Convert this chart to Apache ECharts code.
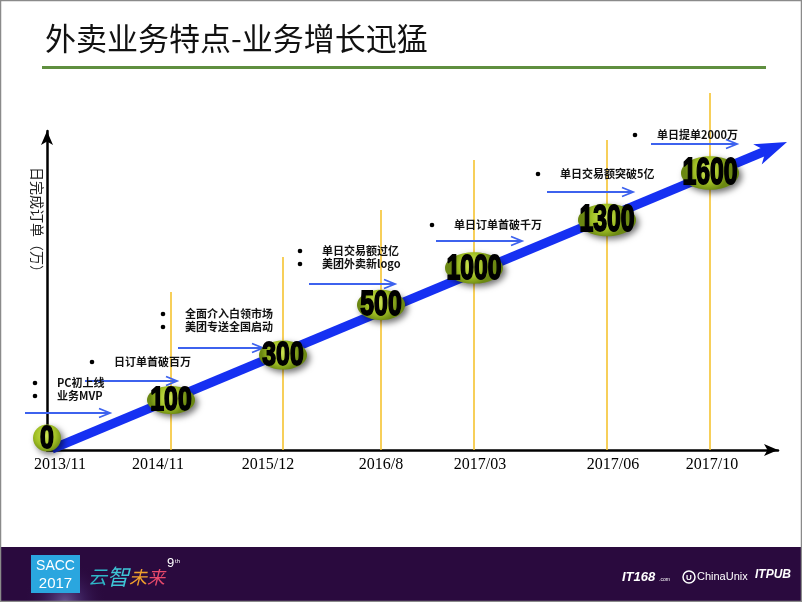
<!DOCTYPE html>
<html><head><meta charset="utf-8">
<script src="https://cdn.jsdelivr.net/npm/echarts@6/dist/echarts.min.js"></script>
<style>html,body{margin:0;padding:0;background:#fff}#c{width:802px;height:602px}</style>
</head><body><div id="c"></div>
<script>
// ---- data ----
const dates = ['2013/11','2014/11','2015/12','2016/8','2017/03','2017/06','2017/10'];
const dateTickPos = [13,111,221,334,433,566,665];
const dailyOrders = [0,100,300,500,1000,1300,1600];
const milestoneX = [0,124,236,334,427,560,663];
const bubbleLevel = [12,50,95,145,182,230,277];
const guideTop = [null,158,193,240,290,310,357];
const trendStart = [5,1];
const trendEnd = [740,308];
const notes = [['PC初上线','业务MVP'],['日订单首破百万'],['全面介入白领市场','美团专送全国启动'],['单日交易额过亿','美团外卖新logo'],['单日订单首破千万'],['单日交易额突破5亿'],['单日提单2000万']];
const noteX = [-12,45,116,253,385,491,588];
const noteY = [67,88,136,199,225,276,315];
const arrowFromX = [-22,38,131,262,389,500,604];
const arrowToX = [63,130,216,348,475,586,690];
const arrowY = [37,69,102,166,209,258,306];

// ---- chart ----
const chart = echarts.init(document.getElementById('c'), null, {renderer:'canvas'});
const CJK = '"Noto Sans CJK SC", "Noto Sans", sans-serif';

const guideData = [];
milestoneX.forEach((x,i)=>{ if (guideTop[i] != null) guideData.push([x, guideTop[i]]); });
const bubbleData = milestoneX.map((x,i)=>[x, bubbleLevel[i], dailyOrders[i]]);
const noteData = noteX.map((x,i)=>[x, noteY[i]]);
const arrowData = arrowFromX.map((x,i)=>[x, arrowToX[i], arrowY[i]]);

function txt(style){
  if (style.align){ style.textAlign = style.align; }
  if (style.verticalAlign){ style.textVerticalAlign = style.verticalAlign; }
  return style;
}
function cjkChar(ch, x, size, color){
  return {type:'text', x:x, y:577, style:txt({text:ch, font:'italic '+size+'px '+CJK, fill:color, align:'left', verticalAlign:'middle'})};
}

const option = {
  animation:false,
  backgroundColor:'#fff',
  grid:{left:47, top:131, width:731, height:319},
  xAxis:{
    type:'value', min:0, max:731,
    splitLine:{show:false},
    axisTick:{show:false},
    axisLine:{show:true, onZero:false, symbol:['none','arrow'], symbolSize:[9,14], lineStyle:{color:'#000', width:2.5}},
    axisLabel:{
      show:true, customValues:dateTickPos, margin:7,
      color:'#000', fontSize:16, fontFamily:'"Liberation Serif", "DejaVu Serif", serif',
      formatter:v=>{ const k=dateTickPos.indexOf(v); return k>=0?dates[k]:''; }
    }
  },
  yAxis:{
    type:'value', min:0, max:319,
    splitLine:{show:false}, axisTick:{show:false}, axisLabel:{show:false},
    axisLine:{show:true, onZero:false, symbol:['none','arrow'], symbolSize:[9,14], lineStyle:{color:'#000', width:2.5}}
  },
  graphic:[
    {type:'text', left:45, top:23, style:{text:'外卖业务特点-业务增长迅猛', font:'normal 31px '+CJK, fill:'#111'}},
    {type:'rect', shape:{x:42, y:66, width:724, height:3}, style:{fill:'#5f8f3f'}},
    {type:'text', x:37, y:223, rotation:-Math.PI/2, style:txt({text:'日完成订单（万）', font:'14px '+CJK, fill:'#222', align:'center', verticalAlign:'middle'})},
    // footer
    {type:'rect', shape:{x:0, y:547, width:802, height:55}, style:{fill:'#2a0a3e'}},
    {type:'rect', shape:{x:0, y:547, width:260, height:55}, style:{fill:new echarts.graphic.RadialGradient(0.25,1,0.75,[{offset:0,color:'rgba(150,140,210,0.55)'},{offset:0.5,color:'rgba(90,70,150,0.25)'},{offset:1,color:'rgba(42,10,62,0)'}])}},
    {type:'rect', shape:{x:31, y:555, width:49, height:38}, style:{fill:'#2aa6df'}},
    {type:'text', x:55.5, y:566, style:txt({text:'SACC', font:'14px "Liberation Sans", Arial, sans-serif', fill:'#fff', align:'center', verticalAlign:'middle'})},
    {type:'text', x:55.5, y:584, style:txt({text:'2017', font:'15px "Liberation Sans", Arial, sans-serif', fill:'#fff', align:'center', verticalAlign:'middle'})},
    cjkChar('云', 88, 19, '#2fb6c8'),
    cjkChar('智', 107, 22, '#3ec5d6'),
    cjkChar('未', 129, 18, '#f0a02c'),
    cjkChar('来', 147, 18, '#e84a6c'),
    {type:'text', x:167, y:563, style:txt({text:'9', font:'13px "Liberation Sans", sans-serif', fill:'#fff', align:'left', verticalAlign:'middle'})},
    {type:'text', x:175, y:561, style:txt({text:'th', font:'6px "Liberation Sans", sans-serif', fill:'#fff', align:'left', verticalAlign:'middle'})},
    {type:'text', x:622, y:577, style:txt({text:'IT168', font:'italic bold 13px "Liberation Sans", sans-serif', fill:'#fff', align:'left', verticalAlign:'middle'})},
    {type:'text', x:659, y:580, style:txt({text:'.com', font:'5px "Liberation Sans", sans-serif', fill:'#fff', align:'left', verticalAlign:'middle'})},
    {type:'circle', shape:{cx:689, cy:577, r:6}, style:{fill:'none', stroke:'#fff', lineWidth:1.5}},
    {type:'text', x:689, y:577.5, style:txt({text:'U', font:'bold 8px "Liberation Sans", sans-serif', fill:'#fff', align:'center', verticalAlign:'middle'})},
    {type:'text', x:697, y:577, style:txt({text:'ChinaUnix', font:'11px "Liberation Sans", sans-serif', fill:'#fff', align:'left', verticalAlign:'middle'})},
    {type:'text', x:755, y:575, style:txt({text:'ITPUB', font:'italic bold 12px "Liberation Sans", sans-serif', fill:'#fff', align:'left', verticalAlign:'middle'})},
    {type:'rect', shape:{x:0.5, y:0.5, width:801, height:601}, style:{fill:'none', stroke:'#8a8a8a', lineWidth:1.5}, z:100}
  ],
  series:[
    {
      type:'custom', clip:false, z:2, data:guideData,
      renderItem:(params, api)=>{
        const a=api.coord([api.value(0),0]), b=api.coord([api.value(0),api.value(1)]);
        return {type:'line', shape:{x1:a[0],y1:a[1],x2:b[0],y2:b[1]}, style:{stroke:'#f5c330', lineWidth:1.6}};
      }
    },
    {
      type:'custom', clip:false, z:3, data:arrowData,
      renderItem:(params, api)=>{
        const a=api.coord([api.value(0),api.value(2)]), b=api.coord([api.value(1),api.value(2)]);
        const col='#3d62ee';
        return {type:'group', children:[
          {type:'line', shape:{x1:a[0],y1:a[1],x2:b[0]-1,y2:b[1]}, style:{stroke:col, lineWidth:1.8}},
          {type:'polyline', shape:{points:[[b[0]-11,b[1]-4.5],[b[0],b[1]],[b[0]-11,b[1]+4.5]]}, style:{stroke:col, lineWidth:1.8, fill:'none'}}
        ]};
      }
    },
    {
      type:'custom', clip:false, z:4, data:[[trendStart[0],trendStart[1],trendEnd[0],trendEnd[1]]],
      encode:{x:[0,2], y:[1,3]},
      renderItem:(params, api)=>{
        const p0=api.coord([api.value(0),api.value(1)]), p1=api.coord([api.value(2),api.value(3)]);
        const dx=p1[0]-p0[0], dy=p1[1]-p0[1], L=Math.hypot(dx,dy), ux=dx/L, uy=dy/L, nx=-uy, ny=ux;
        const head=30, hw=11;
        const b=[p1[0]-ux*head, p1[1]-uy*head];
        const col='#1630f2';
        return {type:'group', children:[
          {type:'line', shape:{x1:p0[0],y1:p0[1],x2:b[0]+ux*8,y2:b[1]+uy*8}, style:{stroke:col, lineWidth:9}},
          {type:'polygon', shape:{points:[p1,[b[0]+nx*hw-ux*2,b[1]+ny*hw-uy*2],[b[0]+ux*7,b[1]+uy*7],[b[0]-nx*hw-ux*2,b[1]-ny*hw-uy*2]]}, style:{fill:col}}
        ]};
      }
    },
    {
      type:'custom', clip:false, z:5, data:bubbleData,
      renderItem:(params, api)=>{
        const i=params.dataIndex;
        const c=api.coord([api.value(0),api.value(1)]);
        const label=String(api.value(2));
        const d=label.length;
        const w=18+10*d, h=27+i*1.1;
        const fs=32+i*0.8;
        const sx=13.8/(0.556*fs);
        return {type:'group', children:[
          {type:'ellipse', shape:{cx:c[0],cy:c[1],rx:w/2,ry:h/2},
            style:{fill:new echarts.graphic.RadialGradient(0.45,0.4,0.65,[{offset:0,color:'#cfe655'},{offset:0.6,color:'#a0bf24'},{offset:1,color:'#6b8812'}]),
              shadowBlur:6, shadowOffsetX:3, shadowOffsetY:3, shadowColor:'rgba(0,0,0,0.55)'}},
          {type:'text', x:c[0], y:c[1]+1, scaleX:sx,
            style:txt({text:label, font:'bold '+fs+'px "Liberation Sans", Arial, sans-serif', fill:'#000', stroke:'#000', lineWidth:1.8,
              align:'center', verticalAlign:'middle', shadowBlur:2, shadowOffsetX:2, shadowOffsetY:2, shadowColor:'rgba(0,0,0,0.45)'})}
        ]};
      }
    },
    {
      type:'custom', clip:false, z:6, data:noteData,
      renderItem:(params, api)=>{
        const i=params.dataIndex;
        const c=api.coord([api.value(0),api.value(1)]);
        const children=[];
        notes[i].forEach((t,j)=>{
          const y=c[1]+j*13;
          children.push({type:'circle', shape:{cx:c[0],cy:y,r:2.3}, style:{fill:'#000'}});
          children.push({type:'text', x:c[0]+22, y:y, style:txt({text:t, font:'bold 11px '+CJK, fill:'#111', align:'left', verticalAlign:'middle'})});
        });
        return {type:'group', children};
      }
    }
  ]
};
chart.setOption(option);
</script>
</body></html>
